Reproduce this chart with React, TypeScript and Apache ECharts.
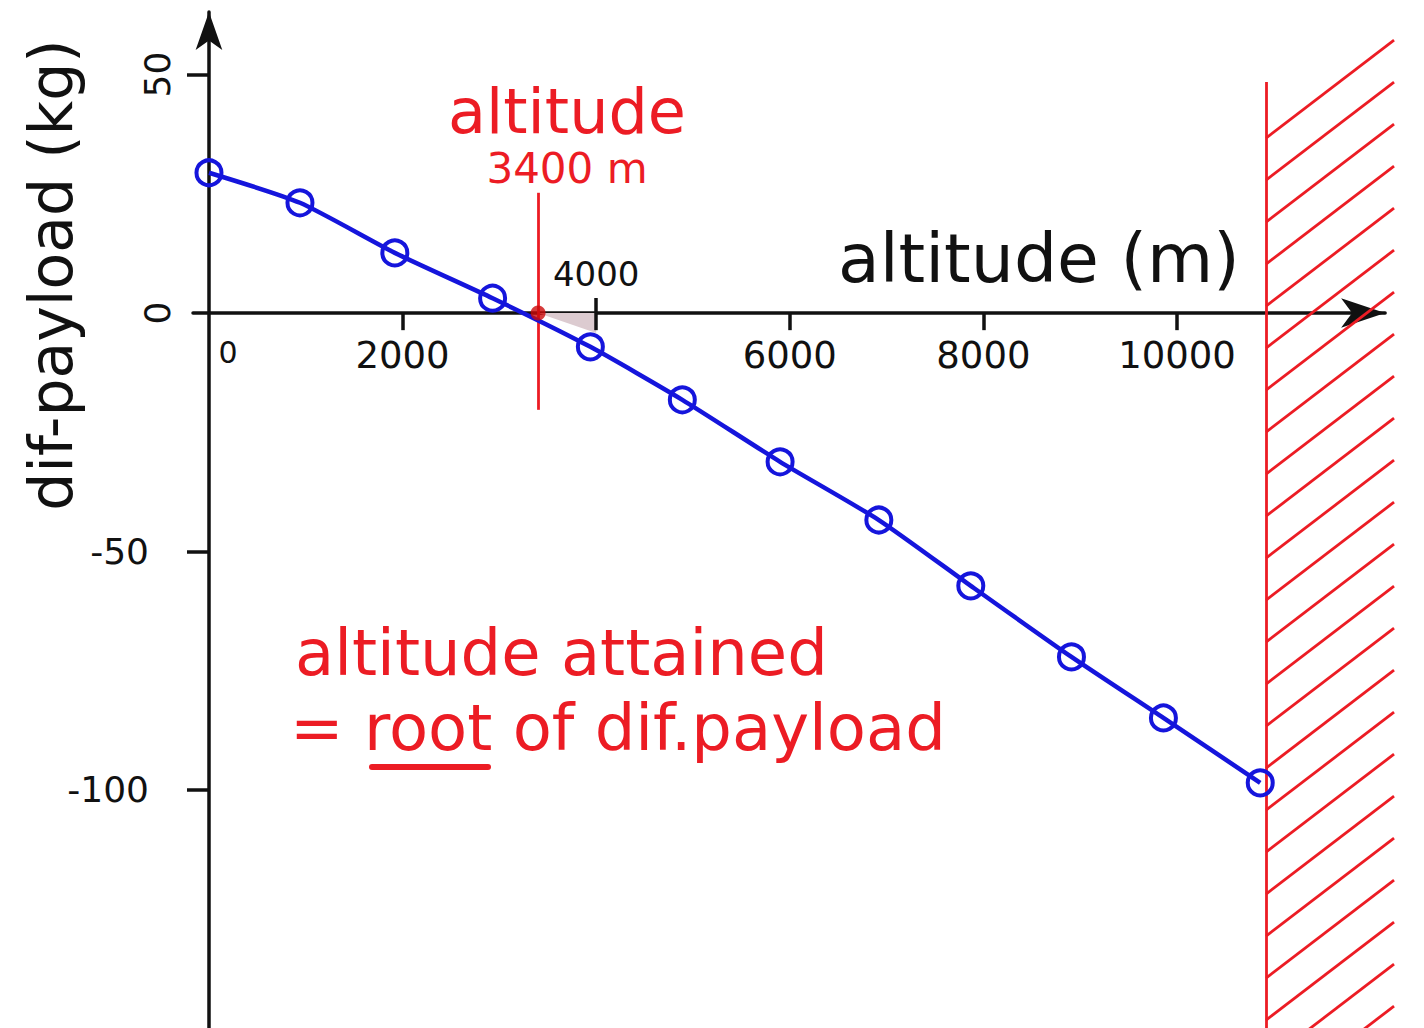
import React, { useEffect, useRef } from 'react';
import * as echarts from 'echarts';

// ---- data ----
const ALTITUDE = [0, 940, 1920, 2930, 3940, 4890, 5900, 6920, 7870, 8910, 9860, 10860];
const DIF_PAYLOAD = [29.4, 23.1, 12.6, 3.1, -7.1, -18.2, -31.2, -43.4, -57.2, -72.1, -84.9, -98.5];
const X_LABELS_BELOW = [0, 2000, 6000, 8000, 10000];
const X_LABELS_ABOVE = [4000];
const X_TICKS_BELOW = [2000, 4000, 6000, 8000, 10000];
const X_TICK_DEPTH = 3.6; // tick length below the axis, in kg
const X_TICKS_ABOVE = [4000];
const Y_LABELS_PLAIN = [-50, -100];
const Y_LABELS_ROTATED = [50, 0];
const Y_TICKS = [50, -50, -100];
const ROOT_ALTITUDE = 3400;
const ROOT_LINE = [25.2, -20.3];
const SHADE_X = [3400, 4000];
const SHADE_Y = [0, -4.2];
const LIMIT_ALTITUDE = 10920;
const LIMIT_TOP = 48.4;
const X_RANGE = [-165, 12150];
const Y_RANGE = [-150, 63.1];

const BLUE = '#1515dc';
const RED = '#ec1c24';
const INK = '#111111';
const FONT = "'DejaVu Sans', sans-serif";

// layout (pixels)
const G_LEFT = 193;
const G_TOP = 12;
const G_WIDTH = 1192.1;
const G_HEIGHT = 1016.5;
const ZERO_Y = 313; // pixel row of dif-payload = 0
const ZERO_X = 209; // pixel column of altitude = 0

export default function App() {
  const ref = useRef<HTMLDivElement>(null);

  useEffect(() => {
    if (!ref.current) return;
    const chart = echarts.init(ref.current, undefined, { renderer: 'svg' });

    const axisLineStyle = { color: INK, width: 3.5 };
    const tickStyle = { color: INK, width: 3.5 };
    const labelBase = { fontFamily: FONT, color: INK };
    const hiddenX = (gridIndex: number) => ({ type: 'value', gridIndex, show: false, min: 0, max: 1 });
    const hiddenY = (gridIndex: number) => ({ type: 'value', gridIndex, show: false, min: 0, max: 1 });
    const noOuter = { containLabel: false, outerBoundsMode: 'none' };

    const option: any = {
      animation: false,
      backgroundColor: '#ffffff',
      grid: [
        { left: G_LEFT, top: G_TOP, width: G_WIDTH, height: G_HEIGHT, ...noOuter },
        { left: G_LEFT, top: G_TOP, width: G_WIDTH, height: ZERO_Y - G_TOP, ...noOuter },
        { left: G_LEFT, top: ZERO_Y, width: G_WIDTH, height: G_TOP + G_HEIGHT - ZERO_Y, ...noOuter },
        { left: ZERO_X, top: G_TOP, width: G_LEFT + G_WIDTH - ZERO_X, height: G_HEIGHT, ...noOuter },
      ],
      xAxis: [
        {
          type: 'value',
          gridIndex: 0,
          position: 'bottom',
          min: X_RANGE[0],
          max: X_RANGE[1],
          axisLine: {
            onZero: true,
            onZeroAxisIndex: 0,
            symbol: ['none', 'arrow'],
            symbolSize: [22, 44],
            lineStyle: axisLineStyle,
          },
          axisTick: { show: false },
          axisLabel: { show: false },
          splitLine: { show: false },
        },
        {
          type: 'value',
          gridIndex: 1,
          position: 'bottom',
          min: X_RANGE[0],
          max: X_RANGE[1],
          axisLine: { show: false, onZero: false },
          axisTick: { show: false },
          axisLabel: {
            ...labelBase,
            customValues: X_LABELS_BELOW,
            margin: 24,
            fontSize: 37,
            formatter: (v: number) => (v === 0 ? '{z|0}' : String(v)),
            rich: { z: { fontSize: 30, fontFamily: FONT, color: INK, padding: [0, 0, 0, 38] } },
          },
          splitLine: { show: false },
        },
        {
          type: 'value',
          gridIndex: 2,
          position: 'top',
          min: X_RANGE[0],
          max: X_RANGE[1],
          axisLine: { show: false, onZero: false },
          axisTick: { show: true, customValues: X_TICKS_ABOVE, length: 15, lineStyle: tickStyle },
          axisLabel: {
            ...labelBase,
            customValues: X_LABELS_ABOVE,
            margin: 22,
            fontSize: 34,
            formatter: (v: number) => String(v),
          },
          splitLine: { show: false },
        },
        hiddenX(3),
      ],
      yAxis: [
        {
          type: 'value',
          gridIndex: 0,
          position: 'left',
          min: Y_RANGE[0],
          max: Y_RANGE[1],
          axisLine: {
            onZero: true,
            onZeroAxisIndex: 0,
            symbol: ['none', 'arrow'],
            symbolSize: [20, 38],
            lineStyle: axisLineStyle,
          },
          axisTick: { show: false },
          axisLabel: { show: false },
          splitLine: { show: false },
        },
        hiddenY(1),
        hiddenY(2),
        {
          type: 'value',
          gridIndex: 3,
          position: 'left',
          min: Y_RANGE[0],
          max: Y_RANGE[1],
          axisLine: { show: false, onZero: false },
          axisTick: { show: true, customValues: Y_TICKS, length: 22, lineStyle: tickStyle },
          axisLabel: {
            ...labelBase,
            customValues: Y_LABELS_PLAIN,
            margin: 60,
            fontSize: 36,
            formatter: (v: number) => String(v),
          },
          splitLine: { show: false },
        },
        {
          type: 'value',
          gridIndex: 3,
          position: 'left',
          min: Y_RANGE[0],
          max: Y_RANGE[1],
          axisLine: { show: false, onZero: false },
          axisTick: { show: false },
          axisLabel: {
            ...labelBase,
            customValues: Y_LABELS_ROTATED,
            rotate: 90,
            margin: 34,
            fontSize: 36,
            formatter: (v: number) => String(v),
          },
          splitLine: { show: false },
        },
      ],
      series: [
        {
          type: 'line',
          name: 'shade',
          xAxisIndex: 0,
          yAxisIndex: 0,
          data: SHADE_X.map((x, i) => [x, SHADE_Y[i]]),
          symbol: 'none',
          lineStyle: { width: 0, opacity: 0 },
          areaStyle: { color: '#dccbd0', opacity: 1 },
          z: 1,
          silent: true,
        },
        {
          type: 'custom',
          name: 'hatch',
          xAxisIndex: 0,
          yAxisIndex: 0,
          data: [[LIMIT_ALTITUDE, LIMIT_TOP]],
          z: 2,
          silent: true,
          renderItem: (params: any, api: any) => {
            const top = api.coord([LIMIT_ALTITUDE, LIMIT_TOP]);
            const bottom = api.coord([LIMIT_ALTITUDE, Y_RANGE[0]]);
            const children: any[] = [];
            for (let y = top[1] + 56; y <= bottom[1] + 90; y += 42) {
              children.push({
                type: 'line',
                shape: { x1: top[0], y1: y, x2: top[0] + 128, y2: y - 98 },
                style: { stroke: RED, lineWidth: 2.8 },
              });
            }
            return { type: 'group', children };
          },
        },
        {
          type: 'line',
          name: 'dif-payload',
          xAxisIndex: 0,
          yAxisIndex: 0,
          data: ALTITUDE.map((x, i) => [x, DIF_PAYLOAD[i]]),
          smooth: 0.2,
          symbol: 'circle',
          symbolSize: 25,
          lineStyle: { color: BLUE, width: 4.5 },
          itemStyle: { color: 'rgba(0,0,0,0)', borderColor: BLUE, borderWidth: 4 },
          z: 5,
          markLine: {
            silent: true,
            symbol: 'none',
            label: { show: false },
            lineStyle: { color: RED, width: 2.8, type: 'solid' },
            data: [
              [{ coord: [ROOT_ALTITUDE, ROOT_LINE[0]] }, { coord: [ROOT_ALTITUDE, ROOT_LINE[1]] }],
              [{ coord: [LIMIT_ALTITUDE, LIMIT_TOP] }, { coord: [LIMIT_ALTITUDE, Y_RANGE[0]] }],
            ],
          },
        },
        {
          type: 'scatter',
          name: 'root',
          xAxisIndex: 0,
          yAxisIndex: 0,
          data: [[ROOT_ALTITUDE, 0]],
          symbol: 'circle',
          symbolSize: 15,
          itemStyle: { color: '#cc0a0a' },
          z: 6,
          markLine: {
            silent: true,
            symbol: 'none',
            label: { show: false },
            lineStyle: { color: INK, width: 3.5, type: 'solid', opacity: 1 },
            data: X_TICKS_BELOW.map((v) => [{ coord: [v, 0] }, { coord: [v, -X_TICK_DEPTH] }]),
          },
        },
      ],
      graphic: [
        {
          type: 'text',
          x: 51,
          y: 275,
          rotation: Math.PI / 2,
          style: {
            text: 'dif-payload (kg)',
            fontSize: 60,
            fontFamily: FONT,
            fill: INK,
            textAlign: 'center',
            textVerticalAlign: 'middle',
          },
        },
        {
          type: 'text',
          x: 838,
          y: 258,
          style: {
            text: 'altitude (m)',
            fontSize: 68,
            fontFamily: FONT,
            fill: INK,
            textAlign: 'left',
            textVerticalAlign: 'middle',
          },
        },
        {
          type: 'text',
          x: 567,
          y: 111,
          style: {
            text: 'altitude',
            fontSize: 62,
            fontFamily: FONT,
            fill: RED,
            textAlign: 'center',
            textVerticalAlign: 'middle',
          },
        },
        {
          type: 'text',
          x: 567,
          y: 168,
          style: {
            text: `${ROOT_ALTITUDE} m`,
            fontSize: 42,
            fontFamily: FONT,
            fill: RED,
            textAlign: 'center',
            textVerticalAlign: 'middle',
          },
        },
        {
          type: 'text',
          x: 295,
          y: 653,
          style: {
            text: 'altitude attained',
            fontSize: 64,
            fontFamily: FONT,
            fill: RED,
            textAlign: 'left',
            textVerticalAlign: 'middle',
          },
        },
        {
          type: 'text',
          x: 290,
          y: 728,
          style: {
            text: '= root of dif.payload',
            fontSize: 64,
            fontFamily: FONT,
            fill: RED,
            textAlign: 'left',
            textVerticalAlign: 'middle',
          },
        },
        {
          type: 'line',
          shape: { x1: 372, y1: 767, x2: 488, y2: 767 },
          style: { stroke: RED, lineWidth: 6, lineCap: 'round' },
        },
      ],
    };

    chart.setOption(option);
    return () => chart.dispose();
  }, []);

  return (
    <div
      ref={ref}
      style={{ position: 'fixed', left: 0, top: 0, width: 1424, height: 1028, background: '#fff' }}
    />
  );
}
